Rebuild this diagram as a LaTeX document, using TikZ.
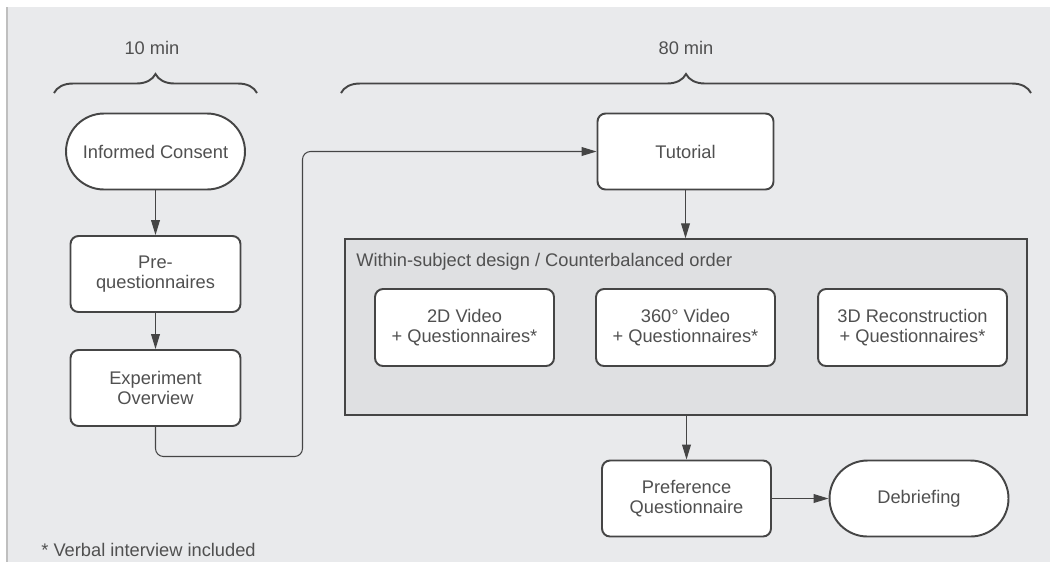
\documentclass[tikz,border=0pt]{standalone}
\usepackage{fontspec}
\setmainfont{Liberation Sans}
\usepackage{xcolor}
\usepackage{tikz}
\usetikzlibrary{arrows.meta}
\usetikzlibrary{decorations.pathreplacing}
\definecolor{bggray}{HTML}{E9EAEC}
\definecolor{groupgray}{HTML}{DFE0E2}
\definecolor{linegray}{HTML}{454545}
\definecolor{textgray}{HTML}{505050}
\tikzset{
    base_node/.style = {align=center, inner sep=0pt, text centered, text=textgray, font=\fontsize{10.4}{11.5}\selectfont},
    box_node/.style = {base_node, rectangle, rounded corners=0.16cm, draw=linegray, fill=white, line width=1.1pt},
    term_node/.style = {base_node, rectangle, rounded corners=0.76cm, draw=linegray, fill=white, line width=1.1pt, minimum width=3.58cm, minimum height=1.52cm},
    group_box/.style = {rectangle, draw=linegray, fill=groupgray, line width=0.8pt},
    label_text/.style = {base_node, anchor=west},
    conn/.style = {draw=linegray, line width=0.6pt},
    time_brace/.style = {draw=linegray, line width=1.1pt, decorate, decoration={brace, amplitude=0.38cm}}
}
\begin{document}
\begin{tikzpicture}[x=0.02cm, y=-0.02cm, >={Triangle[length=8.5pt, width=5pt]}]
    \useasboundingbox (0,0) rectangle (1050,562);
    \fill[bggray] (7,7) rectangle (1050,562);
    \draw[black!25, line width=0.8pt] (7,7) -- (7,562);

    \node[base_node] (t_short) at (152,48) {10 min};
    \node[base_node] (t_long) at (686,48) {80 min};
    \draw[time_brace] (54,93) -- (257,93);
    \draw[time_brace] (341,93) -- (1031,93);

    \node[term_node] (consent) at (155.5,151.5) {Informed Consent};
    \node[box_node, minimum width=3.4cm, minimum height=1.52cm] (preq) at (155.5,274) {Pre-\\questionnaires};
    \node[box_node, minimum width=3.4cm, minimum height=1.52cm] (overview) at (155.5,388) {Experiment\\Overview};
    \node[box_node, minimum width=3.52cm, minimum height=1.52cm] (tutorial) at (685.5,151.5) {Tutorial};

    \node[group_box, minimum width=13.64cm, minimum height=3.52cm] (group) at (686,327) {};
    \node[label_text] (group_label) at (356,262) {Within-subject design / Counterbalanced order};
    \node[box_node, minimum width=3.58cm, minimum height=1.54cm] (cond_2d) at (464.5,327.5) {2D Video\\+ Questionnaires*};
    \node[box_node, minimum width=3.58cm, minimum height=1.54cm] (cond_360) at (685.5,327.5) {360° Video\\+ Questionnaires*};
    \node[box_node, minimum width=3.78cm, minimum height=1.54cm] (cond_3d) at (912.5,327.5) {3D Reconstruction\\+ Questionnaires*};

    \node[box_node, minimum width=3.38cm, minimum height=1.52cm] (pref) at (686.5,498.5) {Preference\\Questionnaire};
    \node[term_node] (debrief) at (919,498.5) {Debriefing};

    \node[label_text] (footnote) at (41,550) {* Verbal interview included};

    \coordinate (turn) at (302.5,456.5);
    \draw[conn, ->] (consent) -- (preq);
    \draw[conn, ->] (preq) -- (overview);
    \draw[conn, ->, rounded corners=0.16cm] (overview.south) |- (turn) |- (tutorial.west);
    \draw[conn, ->] (tutorial) -- (group.north -| tutorial.south);
    \draw[conn, ->] (group.south -| pref.north) -- (pref);
    \draw[conn, ->] (pref) -- (debrief);
\end{tikzpicture}
\end{document}
